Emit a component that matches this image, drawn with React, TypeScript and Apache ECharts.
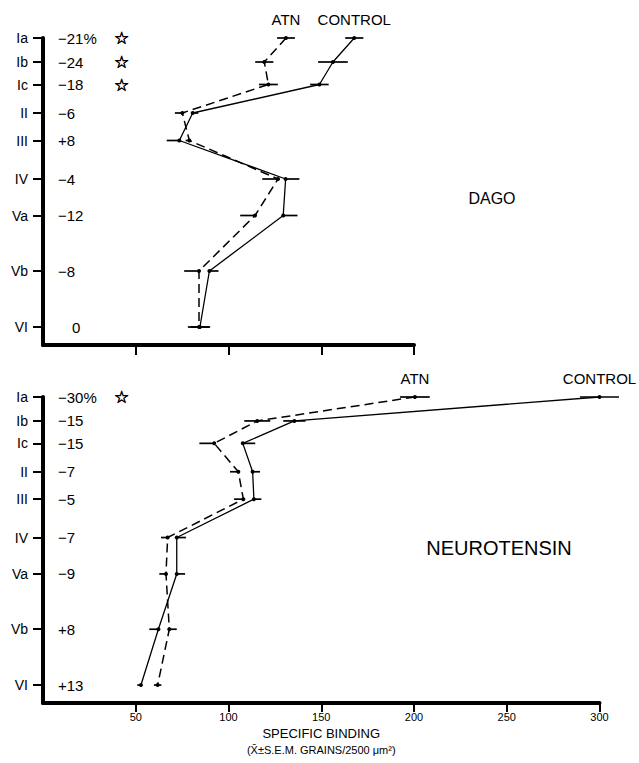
import { useEffect, useRef } from 'react';
import * as echarts from 'echarts';

// Cortical layers and their relative depth (spacing of the layer ticks)
const layers = ['Ia', 'Ib', 'Ic', 'II', 'III', 'IV', 'Va', 'Vb', 'VI'];
const layerDepth = [0, 24, 46.5, 75, 102.5, 141, 177.5, 233, 289];
const depthMax = 307;

// DAGO panel
const dagoChange = ['−21%', '−24', '−18', '−6', '+8', '−4', '−12', '−8', '0'];
const dagoStar = [true, true, true, false, false, false, false, false, false];
const dagoAtn = [131, 119.3, 121.5, 75.1, 78.9, 126.7, 114.3, 84.1, 84.1];
const dagoAtnSem = [4.8, 4.9, 5.1, 4, 2, 8.5, 8, 8, 6];
const dagoAtnSide = ['B', 'B', 'B', 'L', 'L', 'L', 'L', 'L', 'B'];
const dagoCtl = [167.8, 156.3, 149, 80.7, 73.5, 130.8, 129.5, 89.7, 84.6];
const dagoCtlSem = [4.9, 8, 5, 3, 6.8, 7.4, 7.7, 4.9, 5];
const dagoCtlSide = ['B', 'B', 'B', 'R', 'L', 'R', 'R', 'R', 'B'];

// NEUROTENSIN panel
const ntChange = ['−30%', '−15', '−15', '−7', '−5', '−7', '−9', '+8', '+13'];
const ntStar = [true, false, false, false, false, false, false, false, false];
const ntAtn = [200.5, 115.5, 92.3, 105.3, 108, 67.2, 66.3, 68.1, 61.8];
const ntAtnSem = [8, 7, 8, 4.5, 5, 3.6, 3.6, 4, 2];
const ntAtnSide = ['B', 'B', 'L', 'L', 'L', 'L', 'L', 'R', 'B'];
const ntCtl = [300, 135.5, 107.7, 113, 113.7, 72.1, 72.1, 62.2, 52.8];
const ntCtlSem = [10.5, 6, 6.7, 4, 4, 5, 4.5, 4.9, 2];
const ntCtlSide = ['B', 'B', 'R', 'R', 'R', 'R', 'R', 'L', 'L'];

const dagoTicks = [50, 100, 150, 200];
const ntTicks = [50, 100, 150, 200, 250, 300];

const FONT = '"Liberation Sans", Arial, Helvetica, sans-serif';

function lineData(vals: number[], name: string) {
  return vals.map((v, i) =>
    i === 0
      ? {
          value: [v, layerDepth[i]],
          label: {
            show: true,
            formatter: name,
            position: 'top',
            distance: 9,
            fontFamily: FONT,
            fontSize: 15,
            color: '#000',
          },
        }
      : { value: [v, layerDepth[i]] }
  );
}

function errData(vals: number[], sem: number[], side: string[]) {
  return vals.map((v, i) => [
    side[i] === 'R' ? v : v - sem[i],
    side[i] === 'L' ? v : v + sem[i],
    layerDepth[i],
  ]);
}

const renderErr = (params: any, api: any) => {
  const a = api.coord([api.value(0), api.value(2)]);
  const b = api.coord([api.value(1), api.value(2)]);
  return {
    type: 'line',
    shape: { x1: a[0], y1: a[1], x2: b[0], y2: b[1] },
    style: { stroke: '#000', lineWidth: 1.7 },
  };
};

function nameAxis(gridIndex: number) {
  return {
    type: 'value',
    gridIndex,
    inverse: true,
    min: 0,
    max: depthMax,
    position: 'left',
    splitLine: { show: false },
    axisLine: { show: true, onZero: false, lineStyle: { color: '#000', width: 4 } },
    axisTick: { show: true, length: 10, customValues: layerDepth, lineStyle: { color: '#000', width: 2 } },
    axisLabel: {
      show: true,
      customValues: layerDepth,
      margin: 15,
      fontFamily: FONT,
      fontSize: 14,
      color: '#000',
      formatter: (v: number) => layers[layerDepth.indexOf(v)] ?? '',
    },
  };
}

function pctAxis(gridIndex: number, change: string[], star: boolean[]) {
  return {
    type: 'value',
    gridIndex,
    inverse: true,
    min: 0,
    max: depthMax,
    position: 'left',
    splitLine: { show: false },
    axisLine: { show: false },
    axisTick: { show: false },
    axisLabel: {
      show: true,
      inside: true,
      customValues: layerDepth,
      margin: 15,
      formatter: (v: number) => {
        const i = layerDepth.indexOf(v);
        if (i < 0) return '';
        if (change[i] === '0') return '{z|0}';
        return '{p|' + change[i] + '}' + (star[i] ? '{s|☆}' : '');
      },
      rich: {
        p: { fontFamily: FONT, fontSize: 15, color: '#000', width: 56, align: 'left' },
        z: { fontFamily: FONT, fontSize: 15, color: '#000', padding: [0, 0, 0, 14] },
        s: {
          fontFamily: '"DejaVu Sans", sans-serif',
          fontWeight: 'bold',
          fontSize: 17,
          color: '#000',
          textBorderColor: '#000',
          textBorderWidth: 0.6,
        },
      },
    },
  };
}

export default function App() {
  const ref = useRef<HTMLDivElement>(null);
  useEffect(() => {
    if (!ref.current) return;
    const chart = echarts.init(ref.current, null, { renderer: 'svg' });
    const option: any = {
      animation: false,
      backgroundColor: '#fff',
      grid: [
        { left: 43, top: 38, width: 371, height: 307 },
        { left: 43, top: 397, width: 556.5, height: 306 },
      ],
      xAxis: [
        {
          type: 'value',
          gridIndex: 0,
          min: 0,
          max: 200,
          interval: 50,
          splitLine: { show: false },
          axisLine: { onZero: false, lineStyle: { color: '#000', width: 4 } },
          axisTick: { show: true, length: 10, customValues: dagoTicks, lineStyle: { color: '#000', width: 2 } },
          axisLabel: { show: false },
        },
        {
          type: 'value',
          gridIndex: 1,
          min: 0,
          max: 300,
          interval: 50,
          splitLine: { show: false },
          axisLine: { onZero: false, lineStyle: { color: '#000', width: 4 } },
          axisTick: { show: true, length: 9, customValues: ntTicks, lineStyle: { color: '#000', width: 2 } },
          axisLabel: {
            show: true,
            customValues: ntTicks,
            margin: 8,
            fontFamily: FONT,
            fontSize: 11,
            color: '#000',
          },
          name: '{a|SPECIFIC BINDING}\n{b|(X̄±S.E.M. GRAINS/2500 μm²)}',
          nameLocation: 'middle',
          nameGap: 22,
          nameTextStyle: {
            rich: {
              a: { fontFamily: FONT, fontSize: 13, color: '#000', lineHeight: 17 },
              b: { fontFamily: FONT, fontSize: 11, color: '#000', lineHeight: 16 },
            },
          },
        },
      ],
      yAxis: [
        nameAxis(0),
        pctAxis(0, dagoChange, dagoStar),
        nameAxis(1),
        pctAxis(1, ntChange, ntStar),
      ],
      graphic: [
        {
          type: 'text',
          x: 492,
          y: 198,
          style: { text: 'DAGO', font: '16px ' + FONT, fill: '#000', align: 'center', verticalAlign: 'middle' },
        },
        {
          type: 'text',
          x: 499,
          y: 548,
          style: { text: 'NEUROTENSIN', font: '20px ' + FONT, fill: '#000', align: 'center', verticalAlign: 'middle' },
        },
      ],
      series: [
        {
          type: 'custom',
          xAxisIndex: 0,
          yAxisIndex: 0,
          renderItem: renderErr,
          encode: { x: [0, 1], y: 2 },
          data: errData(dagoAtn, dagoAtnSem, dagoAtnSide),
          z: 3,
        },
        {
          type: 'custom',
          xAxisIndex: 0,
          yAxisIndex: 0,
          renderItem: renderErr,
          encode: { x: [0, 1], y: 2 },
          data: errData(dagoCtl, dagoCtlSem, dagoCtlSide),
          z: 3,
        },
        {
          name: 'ATN',
          type: 'line',
          xAxisIndex: 0,
          yAxisIndex: 0,
          data: lineData(dagoAtn, 'ATN'),
          symbol: 'circle',
          symbolSize: 4,
          itemStyle: { color: '#000' },
          lineStyle: { color: '#000', width: 1.5, type: [9, 5] },
          z: 4,
        },
        {
          name: 'CONTROL',
          type: 'line',
          xAxisIndex: 0,
          yAxisIndex: 0,
          data: lineData(dagoCtl, 'CONTROL'),
          symbol: 'circle',
          symbolSize: 4,
          itemStyle: { color: '#000' },
          lineStyle: { color: '#000', width: 1.3 },
          z: 4,
        },
        {
          type: 'custom',
          xAxisIndex: 1,
          yAxisIndex: 2,
          renderItem: renderErr,
          encode: { x: [0, 1], y: 2 },
          data: errData(ntAtn, ntAtnSem, ntAtnSide),
          z: 3,
        },
        {
          type: 'custom',
          xAxisIndex: 1,
          yAxisIndex: 2,
          renderItem: renderErr,
          encode: { x: [0, 1], y: 2 },
          data: errData(ntCtl, ntCtlSem, ntCtlSide),
          z: 3,
        },
        {
          name: 'ATN',
          type: 'line',
          xAxisIndex: 1,
          yAxisIndex: 2,
          data: lineData(ntAtn, 'ATN'),
          symbol: 'circle',
          symbolSize: 4,
          itemStyle: { color: '#000' },
          lineStyle: { color: '#000', width: 1.5, type: [9, 5] },
          z: 4,
        },
        {
          name: 'CONTROL',
          type: 'line',
          xAxisIndex: 1,
          yAxisIndex: 2,
          data: lineData(ntCtl, 'CONTROL'),
          symbol: 'circle',
          symbolSize: 4,
          itemStyle: { color: '#000' },
          lineStyle: { color: '#000', width: 1.3 },
          z: 4,
        },
      ],
    };
    chart.setOption(option);
    return () => chart.dispose();
  }, []);
  return (
    <div
      ref={ref}
      style={{ position: 'absolute', left: 0, top: 0, width: 639, height: 763, background: '#fff' }}
    />
  );
}
